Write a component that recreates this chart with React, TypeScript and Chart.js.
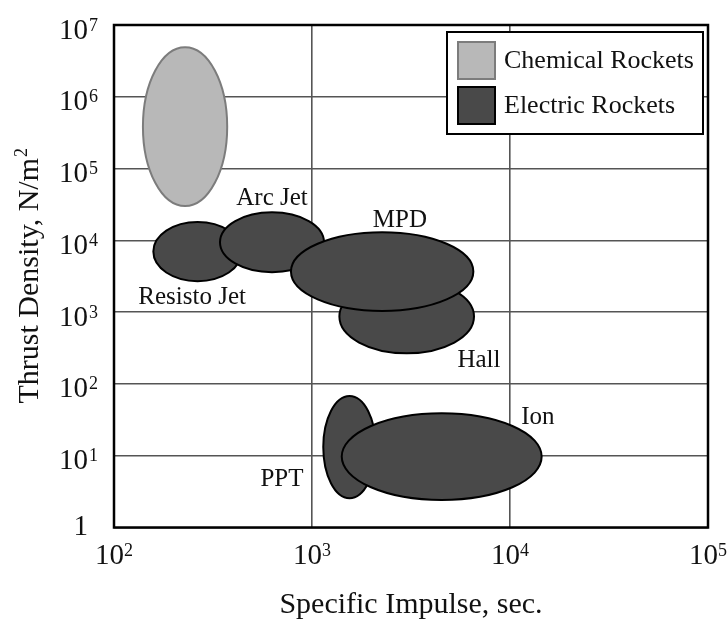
import React, { useEffect, useRef } from "react";
import { Chart, registerables } from "chart.js";

Chart.register(...registerables);

// Operating regions of each propulsion family (ellipse bounding ranges)
const regionNames = ["Chemical Rockets", "Resisto Jet", "Arc Jet", "Hall", "MPD", "PPT", "Ion"];
const regionKinds = ["chemical", "electric", "electric", "electric", "electric", "electric", "electric"];
// Specific impulse range, s
const ispMin = [140, 158, 343, 1375, 783, 1140, 1413];
const ispMax = [373, 442, 1150, 6580, 6530, 2100, 14450];
// Thrust density range, N/m²
const densityMin = [3.0e4, 2.7e3, 3.6e3, 267, 1.04e3, 2.56, 2.42];
const densityMax = [4.9e6, 1.8e4, 2.46e4, 2.81e3, 1.3e4, 68, 39];

// Region captions, centred on these values
const captionText = ["Resisto Jet", "Arc Jet", "MPD", "Hall", "Ion", "PPT"];
const captionIsp = [248, 628, 2780, 6970, 13840, 705];
const captionDensity = [1600, 3.8e4, 1.92e4, 215, 33.6, 4.6];

// Decade ticks (value, exponent shown as superscript; null = plain "1")
const xTickValues = [1e2, 1e3, 1e4, 1e5];
const xTickExponents = ["2", "3", "4", "5"];
const yTickValues = [1, 1e1, 1e2, 1e3, 1e4, 1e5, 1e6, 1e7];
const yTickExponents = [null, "1", "2", "3", "4", "5", "6", "7"];

const legendLabels = ["Chemical Rockets", "Electric Rockets"];

const SERIF = '"Liberation Serif", "Times New Roman", serif';
const CHEM_FILL = "#b8b8b8";
const CHEM_EDGE = "#7c7c7c";
const ELEC_FILL = "#494949";
const ELEC_EDGE = "#000000";
const GRID = "#555555";

const regionsPlugin = {
  id: "thrusterRegions",
  afterDatasetsDraw(chart: any) {
    const { ctx, scales } = chart;
    const xs = scales.x;
    const ys = scales.y;
    ctx.save();
    regionNames.forEach((_, i) => {
      const x1 = xs.getPixelForValue(ispMin[i]);
      const x2 = xs.getPixelForValue(ispMax[i]);
      const y1 = ys.getPixelForValue(densityMax[i]);
      const y2 = ys.getPixelForValue(densityMin[i]);
      const chem = regionKinds[i] === "chemical";
      ctx.beginPath();
      ctx.ellipse((x1 + x2) / 2, (y1 + y2) / 2, Math.abs(x2 - x1) / 2, Math.abs(y2 - y1) / 2, 0, 0, Math.PI * 2);
      ctx.fillStyle = chem ? CHEM_FILL : ELEC_FILL;
      ctx.fill();
      ctx.lineWidth = 2;
      ctx.strokeStyle = chem ? CHEM_EDGE : ELEC_EDGE;
      ctx.stroke();
    });
    ctx.fillStyle = "#111";
    ctx.font = `25px ${SERIF}`;
    ctx.textAlign = "center";
    ctx.textBaseline = "middle";
    captionText.forEach((t, i) => {
      ctx.fillText(t, xs.getPixelForValue(captionIsp[i]), ys.getPixelForValue(captionDensity[i]));
    });
    ctx.restore();
  },
  afterDraw(chart: any) {
    const { ctx, chartArea, scales } = chart;
    const xs = scales.x;
    const ys = scales.y;
    const { left, top, right, bottom } = chartArea;
    ctx.save();

    // frame
    ctx.lineWidth = 2.5;
    ctx.strokeStyle = "#000";
    ctx.strokeRect(left, top, right - left, bottom - top);

    const baseFont = `29px ${SERIF}`;
    const supFont = `18px ${SERIF}`;
    ctx.fillStyle = "#111";
    ctx.textBaseline = "alphabetic";

    // x tick labels
    xTickValues.forEach((v, i) => {
      const px = xs.getPixelForValue(v);
      ctx.font = baseFont;
      const wb = ctx.measureText("10").width;
      ctx.font = supFont;
      const ws = ctx.measureText(xTickExponents[i]).width;
      const x0 = px - (wb + ws) / 2;
      ctx.textAlign = "left";
      ctx.font = baseFont;
      ctx.fillText("10", x0, bottom + 36.5);
      ctx.font = supFont;
      ctx.fillText(xTickExponents[i], x0 + wb, bottom + 28.5);
    });

    // y tick labels
    const baseRight = left - 26;
    yTickValues.forEach((v, i) => {
      const py = ys.getPixelForValue(v);
      const exp = yTickExponents[i];
      ctx.textAlign = "right";
      ctx.font = baseFont;
      if (exp === null) {
        ctx.fillText("1", baseRight, py + 7);
        return;
      }
      ctx.fillText("10", baseRight, py + 13.5);
      ctx.textAlign = "left";
      ctx.font = supFont;
      ctx.fillText(exp, baseRight + 1, py + 5.5);
    });

    // axis titles
    ctx.font = `30px ${SERIF}`;
    ctx.textAlign = "center";
    ctx.fillText("Specific Impulse, sec.", (left + right) / 2, bottom + 85.5);

    ctx.save();
    ctx.translate(38, (top + bottom) / 2);
    ctx.rotate(-Math.PI / 2);
    const yTitle = "Thrust Density, N/m";
    ctx.font = `30px ${SERIF}`;
    const wt = ctx.measureText(yTitle).width;
    ctx.font = `18px ${SERIF}`;
    const w2 = ctx.measureText("2").width;
    const sx = -(wt + w2) / 2;
    ctx.textAlign = "left";
    ctx.font = `30px ${SERIF}`;
    ctx.fillText(yTitle, sx, 0);
    ctx.font = `18px ${SERIF}`;
    ctx.fillText("2", sx + wt + 1, -11);
    ctx.restore();

    // legend
    const lw = 256;
    const lh = 102;
    const lx = right - 5 - lw;
    const ly = top + 7;
    ctx.fillStyle = "#fff";
    ctx.fillRect(lx, ly, lw, lh);
    ctx.lineWidth = 2;
    ctx.strokeStyle = "#000";
    ctx.strokeRect(lx, ly, lw, lh);
    legendLabels.forEach((label, i) => {
      const chem = i === 0;
      const sy = ly + 10 + i * 45;
      ctx.fillStyle = chem ? CHEM_FILL : ELEC_FILL;
      ctx.fillRect(lx + 11, sy, 37, 37);
      ctx.lineWidth = 2;
      ctx.strokeStyle = chem ? CHEM_EDGE : ELEC_EDGE;
      ctx.strokeRect(lx + 11, sy, 37, 37);
      ctx.fillStyle = "#111";
      ctx.font = `26px ${SERIF}`;
      ctx.textAlign = "left";
      ctx.textBaseline = "middle";
      ctx.fillText(label, lx + 57, sy + 19);
    });

    ctx.restore();
  },
};

export default function App() {
  const canvasRef = useRef<HTMLCanvasElement | null>(null);

  useEffect(() => {
    if (!canvasRef.current) return;
    const datasets = regionNames.map((name, i) => ({
      label: name,
      data: [
        { x: ispMin[i], y: densityMin[i] },
        { x: ispMax[i], y: densityMax[i] },
      ],
      pointRadius: 0,
      showLine: false,
    }));
    const chart = new Chart(canvasRef.current, {
      type: "scatter",
      data: { datasets },
      options: {
        animation: false,
        responsive: true,
        maintainAspectRatio: false,
        layout: { padding: { left: 114, top: 25, right: 20, bottom: 95.5 } },
        plugins: { legend: { display: false }, tooltip: { enabled: false } },
        events: [],
        scales: {
          x: {
            type: "logarithmic",
            min: 1e2,
            max: 1e5,
            afterBuildTicks: (s: any) => {
              s.ticks = xTickValues.map((v) => ({ value: v }));
            },
            ticks: { display: false },
            grid: { color: GRID, lineWidth: 1.6, drawTicks: false, tickLength: 0 },
            border: { display: false },
          },
          y: {
            type: "logarithmic",
            min: 1,
            max: 1e7,
            afterBuildTicks: (s: any) => {
              s.ticks = yTickValues.map((v) => ({ value: v }));
            },
            ticks: { display: false },
            grid: { color: GRID, lineWidth: 1.6, drawTicks: false, tickLength: 0 },
            border: { display: false },
          },
        },
      } as any,
      plugins: [regionsPlugin],
    });
    return () => chart.destroy();
  }, []);

  return (
    <div style={{ position: "fixed", left: 0, top: 0, width: 728, height: 623, background: "#fff" }}>
      <canvas ref={canvasRef} />
    </div>
  );
}
